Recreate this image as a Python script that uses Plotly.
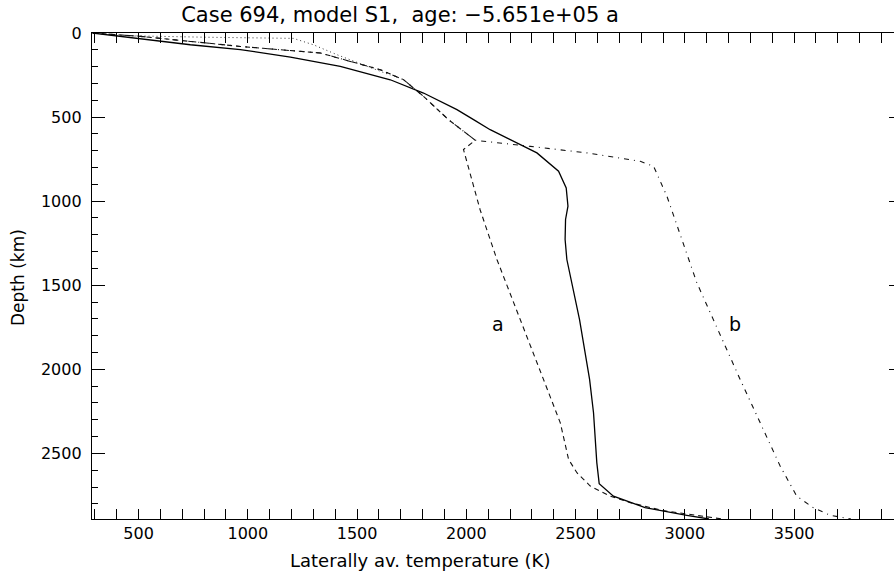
import plotly.graph_objects as go

# Temperature profiles (K) vs depth (km)
solid_T = [290, 508, 737, 966, 1195, 1423, 1652, 1804, 1957, 2033, 2109, 2323, 2422, 2457, 2465,
           2454, 2452, 2460, 2518, 2564, 2582, 2597, 2608, 2673, 2818, 3009, 3110]
solid_D = [0, 36, 70, 99, 143, 198, 278, 357, 456, 515, 575, 713, 822, 921, 1030,
           1109, 1228, 1347, 1704, 2060, 2258, 2555, 2680, 2754, 2823, 2868, 2890]

a_T = [290, 508, 966, 1332, 1469, 1606, 1713, 1804, 1918, 2018, 2041, 1987, 2063, 2140, 2239,
       2353, 2430, 2468, 2506, 2567, 2658, 2750, 2900, 3050, 3170]
a_D = [0, 20, 80, 119, 169, 218, 278, 377, 515, 614, 638, 693, 1051, 1347, 1684,
       2060, 2318, 2536, 2615, 2694, 2754, 2793, 2840, 2870, 2890]

b_T = [290, 508, 966, 1332, 1469, 1606, 1713, 1804, 1918, 2018, 2041, 2293, 2552, 2796, 2857,
       2918, 2980, 3055, 3253, 3360, 3436, 3512, 3588, 3665, 3760]
b_D = [0, 20, 80, 119, 169, 218, 278, 377, 515, 614, 638, 674, 713, 763, 793,
       971, 1209, 1486, 2060, 2357, 2575, 2754, 2823, 2868, 2890]

dot_T = [290, 400, 800, 1209, 1300, 1408, 1550, 1652]
dot_D = [0, 15, 25, 32, 70, 129, 200, 250]

x_range = [287, 3957]
y_range = [2890, 0]
labels = ["a", "b"]
label_T = [2146, 3230]
label_D = [1730, 1730]

title = "Case 694, model S1,\u00a0\u00a0age: \u22125.651e+05 a"
FONT = "DejaVu Sans"

fig = go.Figure()
fig.add_trace(go.Scatter(x=dot_T, y=dot_D, mode="lines",
                         line=dict(color="#333", width=1, dash="1px,3px"), showlegend=False))
fig.add_trace(go.Scatter(x=a_T, y=a_D, mode="lines",
                         line=dict(color="#111", width=1.1, dash="5px,4px"), showlegend=False))
fig.add_trace(go.Scatter(x=b_T, y=b_D, mode="lines",
                         line=dict(color="#111", width=1.1, dash="5px,5px,1px,5px"), showlegend=False))
fig.add_trace(go.Scatter(x=solid_T, y=solid_D, mode="lines",
                         line=dict(color="black", width=1.3), showlegend=False))
fig.add_trace(go.Scatter(x=[], y=[], yaxis="y2", showlegend=False, hoverinfo="skip"))

for lab, t, d in zip(labels, label_T, label_D):
    fig.add_annotation(x=t, y=d, text=lab, showarrow=False,
                       font=dict(family=FONT, size=19, color="black"))

fig.update_layout(
    width=894, height=574,
    margin=dict(l=92, r=0, t=33, b=55),
    paper_bgcolor="white", plot_bgcolor="white",
    font=dict(family=FONT, size=16, color="black"),
    title=dict(text=title, x=(400 - 92) / 802, xref="paper", xanchor="center",
               y=1 - 15 / 574, yanchor="middle",
               font=dict(family=FONT, size=21, color="black")),
    xaxis=dict(range=x_range, showgrid=False, zeroline=False,
               showline=True, linecolor="black", linewidth=1.3, mirror="allticks",
               ticks="inside", ticklen=10, tickwidth=1, tickcolor="black",
               dtick=500, tick0=0,
               minor=dict(ticks="inside", ticklen=5, dtick=100, tick0=0, tickcolor="black", showgrid=False)),
    yaxis=dict(range=y_range, showgrid=False, zeroline=False,
               showline=True, linecolor="black", linewidth=1.3, mirror=False,
               ticks="inside", ticklen=13, tickwidth=1, tickcolor="black",
               dtick=500, tick0=0, ticklabelstandoff=6,
               minor=dict(ticks="inside", ticklen=6, dtick=100, tick0=0, tickcolor="black", showgrid=False)),
    yaxis2=dict(range=y_range, overlaying="y", side="right", showgrid=False, zeroline=False,
                showline=False, showticklabels=False, ticks="inside", ticklen=5,
                tickcolor="black", dtick=500, tick0=0),
)

fig.add_annotation(text="Laterally av. temperature (K)", xref="paper", yref="paper",
                   x=(420 - 92) / 802, y=-(560 - 519) / 486, xanchor="center", yanchor="middle",
                   showarrow=False, font=dict(family=FONT, size=18, color="black"))
fig.add_annotation(text="Depth (km)", xref="paper", yref="paper",
                   x=(18 - 92) / 802, y=(519 - 278) / 486, xanchor="center", yanchor="middle",
                   textangle=-90, showarrow=False, font=dict(family=FONT, size=17, color="black"))

fig.write_html("out.html")
